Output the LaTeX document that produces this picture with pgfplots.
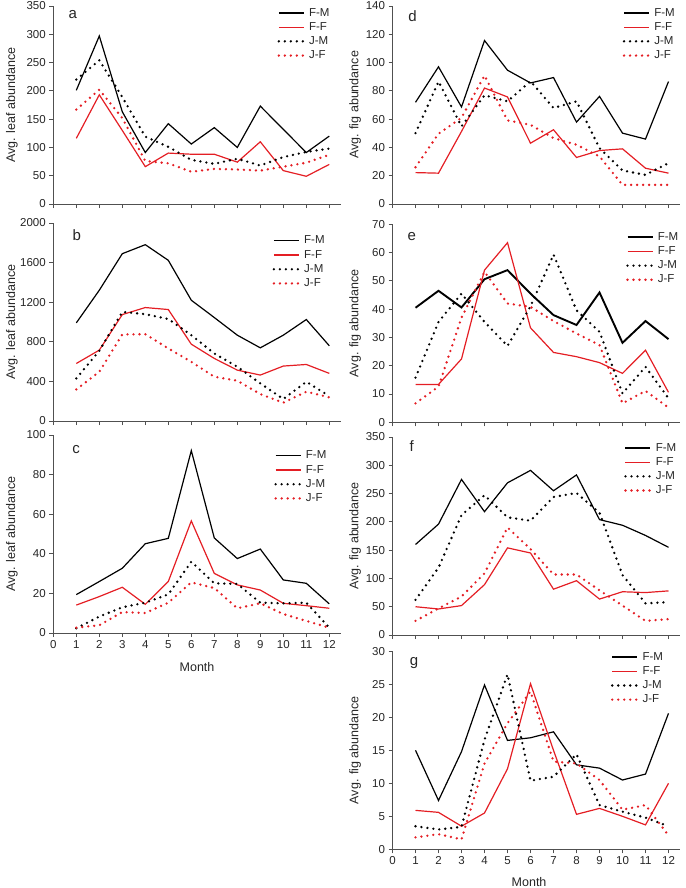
\documentclass[border=0pt]{standalone}
\usepackage{fontspec}
\setmainfont{Liberation Sans}
\usepackage{pgfplots}
\usepackage{pgfplotstable}
\pgfplotsset{compat=1.18}
\definecolor{myred}{RGB}{228,30,36}
\definecolor{axgray}{RGB}{80,80,80}

\pgfplotstableread{
m FM FF JM JF
1 201 116 220 167
2 297 193 254 202
3 163 130 189 152
4 91 66 119 76
5 142 90 101 72
6 106 88 78 57
7 135 88 71 62
8 100 74 80 61
9 173 110 68 59
10 132 59 83 66
11 91 49 92 73
12 120 70 98 87
}\tabA
\pgfplotstableread{
m FM FF JM JF
1 991 581 430 319
2 1321 716 709 497
3 1690 1075 1102 874
4 1781 1146 1079 877
5 1623 1126 1030 733
6 1220 776 867 598
7 1045 632 682 447
8 867 514 548 407
9 739 464 380 272
10 867 555 222 185
11 1025 571 396 296
12 760 481 252 239
}\tabB
\pgfplotstableread{
m FM FF JM JF
1 19.4 14.1 2.4 2.7
2 26 18.4 8.3 3.9
3 32.7 23.1 13 10.6
4 45.1 14.5 15.3 10.1
5 47.8 26 19.5 15.3
6 92.1 56.6 36 25.6
7 48 30.1 25.1 22.7
8 37.6 24.3 24.8 12.5
9 42.4 21.7 15.3 15
10 26.8 15 15 9.6
11 25.1 13.8 15.3 6.1
12 14.7 12.5 2.7 2.7
}\tabC
\pgfplotstableread{
m FM FF JM JF
1 71.9 22.2 50.1 26
2 97 21.8 86.6 49.7
3 68.6 51.3 54.9 61
4 115.6 82 76.9 90.8
5 94.6 75.7 72.6 59.1
6 85.6 43 86.8 56
7 89.4 52.5 67.9 46.6
8 57.9 32.9 72.6 41.9
9 76.1 37.8 39.5 33.6
10 50.1 39 23.7 13.5
11 45.9 25.3 20.6 13.5
12 86.6 21.8 28.9 13.5
}\tabD
\pgfplotstableread{
m FM FF JM JF
1 40.5 13.4 15.8 6.7
2 46.5 13.4 35.5 12.6
3 40.6 22.4 45.5 37
4 50.6 53.8 35.5 53.2
5 53.8 63.5 27 42
6 45.5 33.4 41 40.8
7 37.9 24.7 59.3 35.8
8 34.4 23.2 39.6 31.4
9 45.9 21.1 32 27.3
10 28.1 17.3 10.2 6.7
11 35.8 25.5 19.6 11.1
12 29.4 10.6 8.5 5.2
}\tabE
\pgfplotstableread{
m FM FF JM JF
1 160 50 62 25
2 196 46 119 47
3 275 52 212 68
4 218 89 247 109
5 269 154 208 190
6 291 145 202 152
7 255 81 244 107
8 283 96 251 107
9 204 63.5 216 79
10 194 76.5 106 52
11 176 75 56 25
12 155 78 58 28
}\tabF
\pgfplotstableread{
m FM FF JM JF
1 15.0 5.9 3.5 1.8
2 7.4 5.6 3.0 2.3
3 14.8 3.5 3.4 1.5
4 24.9 5.5 16.6 13
5 16.5 12.2 26.5 19.1
6 16.9 25.1 10.4 23.9
7 17.8 15 11.0 13.3
8 12.8 5.3 14.4 13.0
9 12.3 6.2 6.7 10.5
10 10.5 5.0 5.7 6.0
11 11.4 3.7 4.8 6.7
12 20.6 10.0 3.5 2.1
}\tabG

\pgfplotsset{
  panel/.style={
    scale only axis, width=287.5pt, height=198pt,
    xmin=0, xmax=12.5, ymin=0, xtick={0,...,12},
    axis x line*=bottom, axis y line*=left,
    tick align=outside, major tick length=4pt,
    axis line style={axgray, line width=0.8pt},
    tick style={axgray, line width=0.8pt},
    ticklabel style={font=\fontsize{11.5}{13}\selectfont, text=black!85},
    label style={font=\fontsize{12.5}{14}\selectfont, text=black!85},
    scaled ticks=false,
    /pgf/number format/1000 sep={},
    /pgf/number format/assume math mode=true,
    legend cell align=left,
    legend style={draw=none, fill=none, anchor=north east,
      font=\fontsize{11.5}{13}\selectfont, text=black!85,
      nodes={inner sep=1pt, text height=8.3pt, text depth=2pt},
      row sep=1.9pt, column sep=3pt, inner sep=0pt},
    legend image code/.code={\draw[##1] (0pt,0pt) -- (25pt,0pt);},
    clip=false,
  },
  leftcol/.style={panel, ylabel={Avg. leaf abundance},
    ylabel style={at={(axis description cs:-0.144,0.5)}, anchor=center}},
  rightcol/.style={panel, ylabel={Avg. fig abundance},
    ylabel style={at={(axis description cs:-0.130,0.5)}, anchor=center}},
  notx/.style={xticklabels={}},
  fm/.style={black, line width=1.2pt},
  ff/.style={myred, line width=1.2pt},
  jm/.style={black, line width=2.6pt, line cap=round, dash pattern=on 0pt off 6pt},
  jf/.style={myred, line width=2.6pt, line cap=round, dash pattern=on 0pt off 6pt},
}
\newcommand{\lettr}[3]{\node[font=\fontsize{15}{15}\selectfont, text=black!85] at (axis description cs:#1,#2) {#3};}

\begin{document}
\begin{tikzpicture}[x=1pt,y=1pt]
\useasboundingbox (0,0) rectangle (685,-888);

% a
\begin{axis}[leftcol, notx, at={(53.3pt,-204pt)}, anchor=south west,
  ymax=350, ytick={0,50,...,350},
  legend style={at={(axis description cs:0.965,0.997)}}]
\addplot[fm] table[x=m,y=FM]{\tabA};
\addplot[ff] table[x=m,y=FF]{\tabA};
\addplot[jm] table[x=m,y=JM]{\tabA};
\addplot[jf] table[x=m,y=JF]{\tabA};
\legend{F-M,F-F,J-M,J-F}
\lettr{0.0675}{0.955}{a}
\end{axis}

% b
\begin{axis}[leftcol, notx, at={(53.3pt,-421pt)}, anchor=south west,
  ymax=2000, ytick={0,400,...,2000},
  legend style={at={(axis description cs:0.948,0.942)}}]
\addplot[fm] table[x=m,y=FM]{\tabB};
\addplot[ff] table[x=m,y=FF]{\tabB};
\addplot[jm] table[x=m,y=JM]{\tabB};
\addplot[jf] table[x=m,y=JF]{\tabB};
\legend{F-M,F-F,J-M,J-F}
\lettr{0.082}{0.939}{b}
\end{axis}

% c
\begin{axis}[leftcol, at={(53.3pt,-633pt)}, anchor=south west,
  ymax=100, ytick={0,20,...,100},
  xlabel={Month},
  xlabel style={at={(axis description cs:0.5,-0.172)}, anchor=center},
  legend style={at={(axis description cs:0.954,0.927)}}]
\addplot[fm] table[x=m,y=FM]{\tabC};
\addplot[ff] table[x=m,y=FF]{\tabC};
\addplot[jm] table[x=m,y=JM]{\tabC};
\addplot[jf] table[x=m,y=JF]{\tabC};
\legend{F-M,F-F,J-M,J-F}
\lettr{0.079}{0.929}{c}
\end{axis}

% d
\begin{axis}[rightcol, notx, at={(392.5pt,-204pt)}, anchor=south west,
  ymax=140, ytick={0,20,...,140},
  legend style={at={(axis description cs:0.986,0.997)}}]
\addplot[fm] table[x=m,y=FM]{\tabD};
\addplot[ff] table[x=m,y=FF]{\tabD};
\addplot[jm] table[x=m,y=JM]{\tabD};
\addplot[jf] table[x=m,y=JF]{\tabD};
\legend{F-M,F-F,J-M,J-F}
\lettr{0.070}{0.949}{d}
\end{axis}

% e
\begin{axis}[rightcol, notx, at={(392.5pt,-422.3pt)}, anchor=south west,
  ymax=70, ytick={0,10,...,70},
  legend style={at={(axis description cs:0.998,0.967)}}]
\addplot[black, line width=1.9pt] table[x=m,y=FM]{\tabE};
\addplot[ff] table[x=m,y=FF]{\tabE};
\addplot[jm] table[x=m,y=JM]{\tabE};
\addplot[jf] table[x=m,y=JF]{\tabE};
\legend{F-M,F-F,J-M,J-F}
\lettr{0.067}{0.936}{e}
\end{axis}

% f
\begin{axis}[rightcol, notx, at={(392.5pt,-635pt)}, anchor=south west,
  ymax=350, ytick={0,50,...,350},
  legend style={at={(axis description cs:0.991,0.977)}}]
\addplot[fm] table[x=m,y=FM]{\tabF};
\addplot[ff] table[x=m,y=FF]{\tabF};
\addplot[jm] table[x=m,y=JM]{\tabF};
\addplot[jf] table[x=m,y=JF]{\tabF};
\legend{F-M,F-F,J-M,J-F}
\lettr{0.067}{0.955}{f}
\end{axis}

% g
\begin{axis}[rightcol, at={(392.5pt,-849.3pt)}, anchor=south west,
  ymax=30, ytick={0,5,...,30},
  xlabel={Month},
  xlabel style={at={(axis description cs:0.475,-0.165)}, anchor=center},
  legend style={at={(axis description cs:0.945,1.003)}}]
\addplot[fm] table[x=m,y=FM]{\tabG};
\addplot[ff] table[x=m,y=FF]{\tabG};
\addplot[jm] table[x=m,y=JM]{\tabG};
\addplot[jf] table[x=m,y=JF]{\tabG};
\legend{F-M,F-F,J-M,J-F}
\lettr{0.075}{0.941}{g}
\end{axis}
\end{tikzpicture}
\end{document}
